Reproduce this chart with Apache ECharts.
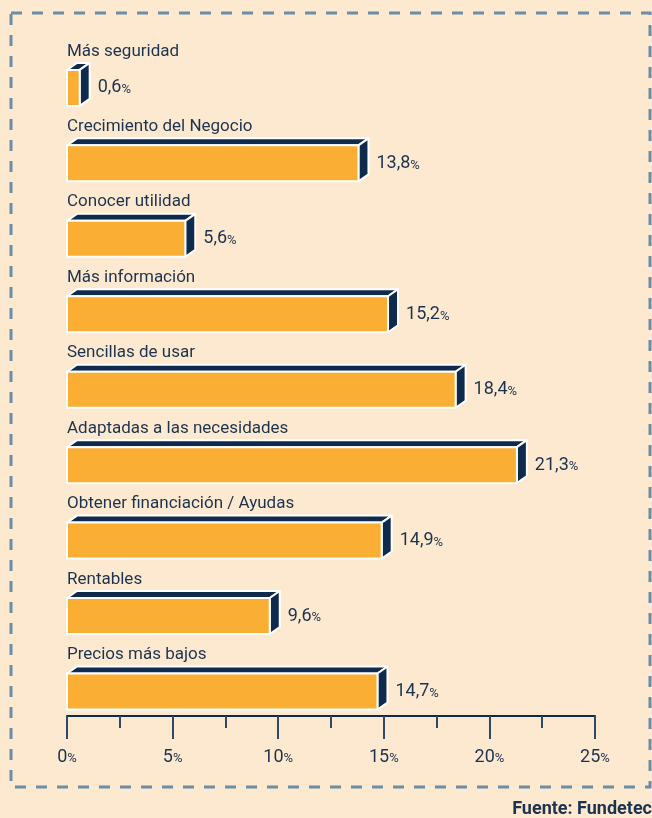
<!DOCTYPE html>
<html>
<head>
<meta charset="utf-8">
<script src="https://cdn.jsdelivr.net/npm/echarts@6/dist/echarts.min.js"></script>
<style>
  html, body { margin: 0; padding: 0; background: #fde9cf; }
  #chart { width: 652px; height: 818px; }
</style>
</head>
<body>
<div id="chart"></div>
<script>
const categories = [
  'Más seguridad',
  'Crecimiento del Negocio',
  'Conocer utilidad',
  'Más información',
  'Sencillas de usar',
  'Adaptadas a las necesidades',
  'Obtener financiación / Ayudas',
  'Rentables',
  'Precios más bajos'
];
const values = [0.6, 13.8, 5.6, 15.2, 18.4, 21.3, 14.9, 9.6, 14.7];
const axisTicks = [0, 5, 10, 15, 20, 25];

const NAVY = '#0e2a4c';
const ORANGE = '#fbae34';
const TEXT = '#1c3350';
const FONT = 'Roboto';

const chart = echarts.init(document.getElementById('chart'));

// barra 3D: cara frontal, tapa y lateral
function renderBar(params, api) {
  const idx = api.value(1);
  const end = api.coord([api.value(0), idx]);
  const start = api.coord([0, idx]);
  const band = api.size([0, 1])[1];
  const yc = end[1] + band * 0.175;
  const h = 36;
  const yt = yc - h / 2, yb = yc + h / 2;
  const x0 = start[0], x1 = end[0];
  const dx = 10, dy = 7;
  const edge = { stroke: '#ffffff', lineWidth: 2, lineJoin: 'round' };
  const txt = String(api.value(0)).replace('.', ',');
  return {
    type: 'group',
    children: [
      {
        type: 'polygon',
        shape: { points: [[x0, yt], [x0 + dx, yt - dy], [x1 + dx, yt - dy], [x1, yt]] },
        style: Object.assign({ fill: NAVY }, edge)
      },
      {
        type: 'polygon',
        shape: { points: [[x1, yt], [x1 + dx, yt - dy], [x1 + dx, yb - dy], [x1, yb]] },
        style: Object.assign({ fill: NAVY }, edge)
      },
      {
        type: 'rect',
        shape: { x: x0, y: yt, width: x1 - x0, height: h },
        style: Object.assign({ fill: ORANGE }, edge)
      },
      {
        type: 'text',
        style: {
          x: x0, y: end[1] - band * 0.31,
          text: categories[idx],
          fill: TEXT,
          fontFamily: FONT,
          fontSize: 17,
          verticalAlign: 'middle'
        }
      },
      {
        type: 'text',
        style: {
          x: x1 + dx + 8, y: yc,
          text: '{n|' + txt + '}{p|%}',
          verticalAlign: 'middle',
          rich: {
            n: { fill: TEXT, fontFamily: FONT, fontSize: 18 },
            p: { fill: TEXT, fontFamily: FONT, fontSize: 13, padding: [4, 0, 0, 0] }
          }
        }
      }
    ]
  };
}

const option = {
  backgroundColor: '#fde9cf',
  animation: false,
  grid: { left: 67, right: 57, top: 37, bottom: 102 },
  xAxis: {
    type: 'value',
    min: axisTicks[0],
    max: axisTicks[axisTicks.length - 1],
    interval: 5,
    axisLine: { show: true, lineStyle: { color: NAVY, width: 2 } },
    axisTick: { show: true, length: 23, lineStyle: { color: '#2d4a68', width: 2 } },
    minorTick: { show: true, splitNumber: 2, length: 12, lineStyle: { color: '#2d4a68', width: 2 } },
    splitLine: { show: false },
    axisLabel: {
      margin: 32,
      formatter: v => '{n|' + v + '}{p|%}',
      rich: {
        n: { color: TEXT, fontFamily: FONT, fontSize: 18 },
        p: { color: TEXT, fontFamily: FONT, fontSize: 13, padding: [4, 0, 0, 0] }
      }
    }
  },
  yAxis: {
    type: 'category',
    data: categories,
    inverse: true,
    show: false
  },
  graphic: [
    {
      type: 'rect',
      shape: { x: 11, y: 13, width: 639, height: 774 },
      style: { fill: 'none', stroke: '#6a8ea8', lineWidth: 3, lineDash: [11, 10] },
      z: 0
    },
    {
      type: 'text',
      right: 0,
      top: 800,
      style: {
        text: 'Fuente: Fundetec',
        fill: TEXT,
        fontFamily: FONT,
        fontWeight: 'bold',
        fontSize: 18
      }
    }
  ],
  series: [
    {
      type: 'custom',
      renderItem: renderBar,
      encode: { x: 0, y: 1 },
      data: values.map((v, i) => [v, i]),
      clip: false
    }
  ]
};

chart.setOption(option);
window.addEventListener('resize', () => chart.resize());
</script>
</body>
</html>
